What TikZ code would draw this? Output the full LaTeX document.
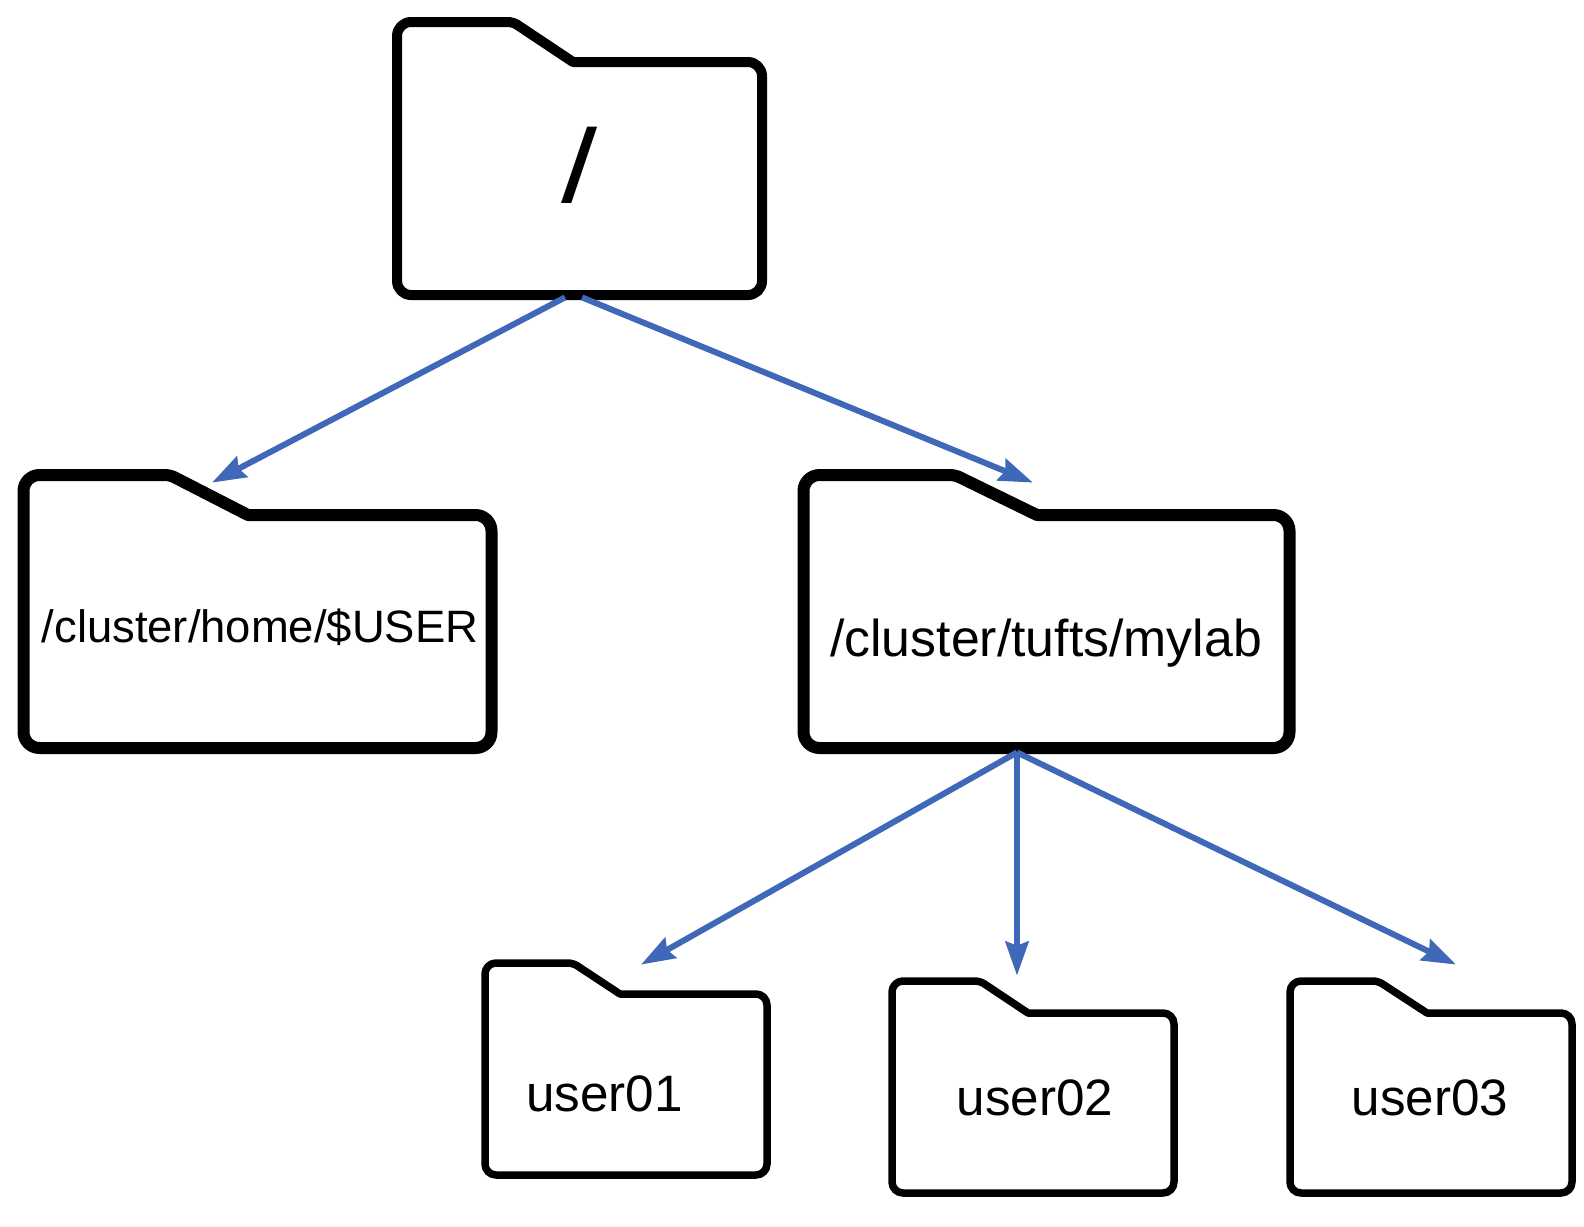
\documentclass[tikz,border=0pt]{standalone}
\usepackage{fontspec}
\setmainfont{Liberation Sans}
\usetikzlibrary{arrows.meta,fit}
\definecolor{linkblue}{RGB}{64,104,184}

\tikzset{
  folderline/.style={draw=black, line join=round},
  foldertext/.style={anchor=base, inner sep=0pt, text=black},
  link/.style={draw=linkblue, line width=3pt, -{Stealth[length=17pt,width=11.5pt,inset=2pt]}}
}

% name, left, right, tab top, body top, bottom, tab end, slope end, line width
\newcommand{\folderdir}[9]{
  \draw[folderline, line width=#9, rounded corners=\folderrad]
    (#2,#5) -- (#2,#4) [rounded corners=2.5pt] -- (#7,#4) [sharp corners] -- (#8,#5)
    [rounded corners=\folderrad] -- (#3,#5) -- (#3,#6) -- (#2,#6) -- cycle;
  \node[fit={(#2,#4) (#3,#6)}, inner sep=0pt] (#1) {};
}

\begin{document}
\begin{tikzpicture}[x=0.5pt, y=-0.5pt]
\useasboundingbox (0,0) rectangle (1584,1226);

\def\folderrad{7pt}
\folderdir{rootdir}{397}{762}{22}{62}{295}{513}{573}{5pt}
\def\folderrad{8pt}
\folderdir{homedir}{23.5}{491.5}{475}{515}{748}{170}{248}{6pt}
\folderdir{tuftsdir}{803.5}{1289.5}{475}{515}{748}{955}{1037}{6pt}
\def\folderrad{5.5pt}
\folderdir{userone}{485}{767}{963}{994}{1175}{573}{620}{3.75pt}
\folderdir{usertwo}{892}{1174}{981}{1013}{1193}{980}{1028}{3.75pt}
\folderdir{userthree}{1290}{1572}{981}{1013}{1193}{1378}{1427}{3.75pt}

\node[foldertext, font=\fontsize{52}{60}\selectfont, xscale=1.25, transform shape] (rootlabel) at (579.5,202) {/};
\node[foldertext, font=\fontsize{22.7}{26}\selectfont] (homelabel) at (260,642) {/cluster/home/\$USER};
\node[foldertext, font=\fontsize{25.9}{30}\selectfont] (tuftslabel) at (1046,656) {/cluster/tufts/mylab};
\node[foldertext, font=\fontsize{25.6}{29}\selectfont] (useronelabel) at (604.5,1111) {user01};
\node[foldertext, font=\fontsize{25.6}{29}\selectfont] (usertwolabel) at (1035,1115) {user02};
\node[foldertext, font=\fontsize{25.6}{29}\selectfont] (userthreelabel) at (1430,1115) {user03};

\draw[link] ([xshift=-7.25pt,yshift=-1pt]rootdir.south) -- ([xshift=-22.75pt,yshift=-4pt]homedir.north);
\draw[link] ([xshift=1.25pt,yshift=-1pt]rootdir.south) -- ([xshift=-6.75pt,yshift=-4pt]tuftsdir.north);

\draw[link] ([xshift=-14.75pt,yshift=-2pt]tuftsdir.south) -- ([xshift=7.5pt,yshift=-1pt]userone.north);
\draw[link] ([xshift=-14.75pt,yshift=-2pt]tuftsdir.south) -- ([xshift=-8pt,yshift=2.5pt]usertwo.north);
\draw[link] ([xshift=-14.75pt,yshift=-2pt]tuftsdir.south) -- ([xshift=12.5pt,yshift=8pt]userthree.north);

\end{tikzpicture}
\end{document}
